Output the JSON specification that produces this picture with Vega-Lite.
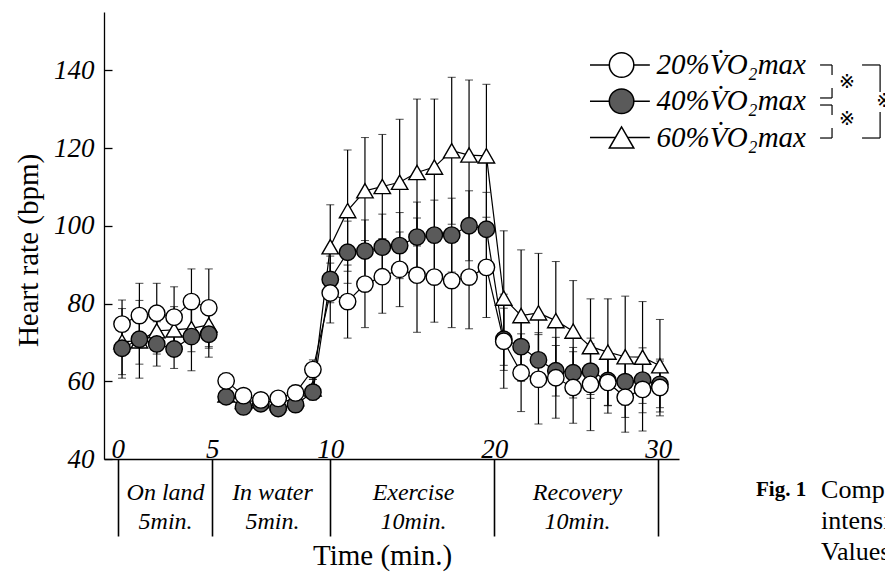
{
  "$schema": "https://vega.github.io/schema/vega-lite/v6.json",
  "width": 575,
  "height": 447,
  "autosize": "none",
  "padding": {"left": 104, "top": 12, "right": 206, "bottom": 122},
  "background": "white",
  "config": {
    "view": {"stroke": null},
    "font": "Liberation Serif",
    "text": {"font": "Liberation Serif"},
    "title": {"font": "Liberation Serif"},
    "style": {"guide-title": {"font": "Liberation Serif", "fontWeight": "normal"}, "guide-label": {"font": "Liberation Serif"}},
    "axis": {"labelFont": "Liberation Serif", "titleFont": "Liberation Serif", "labelColor": "black", "titleColor": "black", "domainColor": "black", "tickColor": "black", "grid": false, "titleFontWeight": "normal"}
  },
  "datasets": {
    "hr": [
      {"s":"60%","i":0,"hr":70.2,"sd":8.5,"seg":"land"},{"s":"60%","i":1,"hr":70.4,"sd":6,"seg":"land"},{"s":"60%","i":2,"hr":73.0,"sd":6,"seg":"land"},{"s":"60%","i":3,"hr":73.2,"sd":6,"seg":"land"},{"s":"60%","i":4,"hr":73.6,"sd":6,"seg":"land"},{"s":"60%","i":5,"hr":74.5,"sd":6,"seg":"land"},
      {"s":"60%","i":6,"hr":56.5,"sd":2,"seg":"main"},{"s":"60%","i":7,"hr":54.8,"sd":1.5,"seg":"main"},{"s":"60%","i":8,"hr":55.0,"sd":1.5,"seg":"main"},{"s":"60%","i":9,"hr":54.5,"sd":1.5,"seg":"main"},{"s":"60%","i":10,"hr":55.5,"sd":2,"seg":"main"},{"s":"60%","i":11,"hr":58.0,"sd":2.5,"seg":"main"},
      {"s":"60%","i":12,"hr":94.6,"sd":10.8,"seg":"main"},{"s":"60%","i":13,"hr":103.9,"sd":15.6,"seg":"main"},{"s":"60%","i":14,"hr":109.0,"sd":13.7,"seg":"main"},{"s":"60%","i":15,"hr":110.1,"sd":13.4,"seg":"main"},{"s":"60%","i":16,"hr":111.2,"sd":16.2,"seg":"main"},{"s":"60%","i":17,"hr":113.7,"sd":18.9,"seg":"main"},{"s":"60%","i":18,"hr":115.1,"sd":17.5,"seg":"main"},{"s":"60%","i":19,"hr":119.3,"sd":18.9,"seg":"main"},{"s":"60%","i":20,"hr":118.2,"sd":19.3,"seg":"main"},{"s":"60%","i":21,"hr":118.0,"sd":18.4,"seg":"main"},
      {"s":"60%","i":22,"hr":81.4,"sd":17.3,"seg":"main"},{"s":"60%","i":23,"hr":76.9,"sd":16.9,"seg":"main"},{"s":"60%","i":24,"hr":77.6,"sd":15.3,"seg":"main"},{"s":"60%","i":25,"hr":75.6,"sd":15.2,"seg":"main"},{"s":"60%","i":26,"hr":72.9,"sd":13.0,"seg":"main"},{"s":"60%","i":27,"hr":68.9,"sd":12.3,"seg":"main"},{"s":"60%","i":28,"hr":67.5,"sd":13.7,"seg":"main"},{"s":"60%","i":29,"hr":66.3,"sd":15.6,"seg":"main"},{"s":"60%","i":30,"hr":66.2,"sd":14.3,"seg":"main"},{"s":"60%","i":31,"hr":64.0,"sd":11.9,"seg":"main"},
      {"s":"40%","i":0,"hr":68.5,"sd":7.7,"seg":"land"},{"s":"40%","i":1,"hr":70.8,"sd":10,"seg":"land"},{"s":"40%","i":2,"hr":69.6,"sd":5.7,"seg":"land"},{"s":"40%","i":3,"hr":68.3,"sd":5,"seg":"land"},{"s":"40%","i":4,"hr":71.5,"sd":8.8,"seg":"land"},{"s":"40%","i":5,"hr":72.1,"sd":5.9,"seg":"land"},
      {"s":"40%","i":6,"hr":56.0,"sd":1.5,"seg":"main"},{"s":"40%","i":7,"hr":53.4,"sd":1.5,"seg":"main"},{"s":"40%","i":8,"hr":54.2,"sd":1.5,"seg":"main"},{"s":"40%","i":9,"hr":53.0,"sd":1.5,"seg":"main"},{"s":"40%","i":10,"hr":54.0,"sd":1.5,"seg":"main"},{"s":"40%","i":11,"hr":57.2,"sd":2,"seg":"main"},
      {"s":"40%","i":12,"hr":86.2,"sd":6,"seg":"main"},{"s":"40%","i":13,"hr":93.2,"sd":8,"seg":"main"},{"s":"40%","i":14,"hr":93.5,"sd":8,"seg":"main"},{"s":"40%","i":15,"hr":94.5,"sd":8.5,"seg":"main"},{"s":"40%","i":16,"hr":94.9,"sd":8.5,"seg":"main"},{"s":"40%","i":17,"hr":97.1,"sd":9,"seg":"main"},{"s":"40%","i":18,"hr":97.6,"sd":9,"seg":"main"},{"s":"40%","i":19,"hr":97.6,"sd":9.5,"seg":"main"},{"s":"40%","i":20,"hr":100.0,"sd":9,"seg":"main"},{"s":"40%","i":21,"hr":99.1,"sd":9.5,"seg":"main"},
      {"s":"40%","i":22,"hr":70.8,"sd":8,"seg":"main"},{"s":"40%","i":23,"hr":68.9,"sd":7,"seg":"main"},{"s":"40%","i":24,"hr":65.5,"sd":7,"seg":"main"},{"s":"40%","i":25,"hr":62.7,"sd":6.5,"seg":"main"},{"s":"40%","i":26,"hr":62.2,"sd":6.5,"seg":"main"},{"s":"40%","i":27,"hr":62.6,"sd":7,"seg":"main"},{"s":"40%","i":28,"hr":60.2,"sd":6.5,"seg":"main"},{"s":"40%","i":29,"hr":59.9,"sd":6,"seg":"main"},{"s":"40%","i":30,"hr":60.3,"sd":6,"seg":"main"},{"s":"40%","i":31,"hr":59.2,"sd":6,"seg":"main"},
      {"s":"20%","i":0,"hr":74.7,"sd":6.2,"seg":"land"},{"s":"20%","i":1,"hr":76.9,"sd":8.3,"seg":"land"},{"s":"20%","i":2,"hr":77.5,"sd":7.7,"seg":"land"},{"s":"20%","i":3,"hr":76.5,"sd":7.8,"seg":"land"},{"s":"20%","i":4,"hr":80.5,"sd":8.4,"seg":"land"},{"s":"20%","i":5,"hr":78.9,"sd":10,"seg":"land"},
      {"s":"20%","i":6,"hr":60.1,"sd":2,"seg":"main"},{"s":"20%","i":7,"hr":56.3,"sd":1.5,"seg":"main"},{"s":"20%","i":8,"hr":55.2,"sd":1.5,"seg":"main"},{"s":"20%","i":9,"hr":55.6,"sd":1.5,"seg":"main"},{"s":"20%","i":10,"hr":57.0,"sd":2,"seg":"main"},{"s":"20%","i":11,"hr":63.0,"sd":2.5,"seg":"main"},
      {"s":"20%","i":12,"hr":82.7,"sd":7.7,"seg":"main"},{"s":"20%","i":13,"hr":80.5,"sd":9.4,"seg":"main"},{"s":"20%","i":14,"hr":85.0,"sd":11.2,"seg":"main"},{"s":"20%","i":15,"hr":86.9,"sd":9.4,"seg":"main"},{"s":"20%","i":16,"hr":88.8,"sd":9.6,"seg":"main"},{"s":"20%","i":17,"hr":87.3,"sd":14.7,"seg":"main"},{"s":"20%","i":18,"hr":86.8,"sd":11.6,"seg":"main"},{"s":"20%","i":19,"hr":85.9,"sd":12.1,"seg":"main"},{"s":"20%","i":20,"hr":86.8,"sd":13.3,"seg":"main"},{"s":"20%","i":21,"hr":89.3,"sd":12.9,"seg":"main"},
      {"s":"20%","i":22,"hr":70.3,"sd":12.1,"seg":"main"},{"s":"20%","i":23,"hr":62.2,"sd":10,"seg":"main"},{"s":"20%","i":24,"hr":60.5,"sd":11.5,"seg":"main"},{"s":"20%","i":25,"hr":60.9,"sd":10.4,"seg":"main"},{"s":"20%","i":26,"hr":58.4,"sd":9.2,"seg":"main"},{"s":"20%","i":27,"hr":59.2,"sd":11.9,"seg":"main"},{"s":"20%","i":28,"hr":59.7,"sd":7.9,"seg":"main"},{"s":"20%","i":29,"hr":55.9,"sd":9,"seg":"main"},{"s":"20%","i":30,"hr":57.9,"sd":10.7,"seg":"main"},{"s":"20%","i":31,"hr":58.4,"sd":7.3,"seg":"main"}
    ],
    "legend": [
      {"s":"20%","label":"20%V̇O₂max"},
      {"s":"40%","label":"40%V̇O₂max"},
      {"s":"60%","label":"60%V̇O₂max"}
    ],
    "one": [{}]
  },
  "layer": [
    {
      "layer": [
        {
          "data": {"name": "hr"},
          "mark": {"type": "errorbar", "ticks": {"size": 8, "color": "black", "strokeWidth": 1.2}, "rule": {"color": "black", "strokeWidth": 1.2}},
          "encoding": {
            "x": {"field": "i", "type": "quantitative", "scale": {"domain": [-1.04, 32.1], "nice": false, "zero": false}, "title": null},
            "y": {"field": "hr", "type": "quantitative", "scale": {"domain": [40, 155], "nice": false, "zero": false}, "title": "Heart rate (bpm)"},
            "yError": {"field": "sd"}
          }
        },
        {
          "data": {"name": "hr"},
          "mark": {"type": "line", "color": "black", "strokeWidth": 1.2},
          "encoding": {
            "x": {"field": "i", "type": "quantitative", "title": null},
            "y": {"field": "hr", "type": "quantitative", "title": "Heart rate (bpm)"},
            "detail": [{"field": "s"}, {"field": "seg"}]
          }
        },
        {
          "data": {"name": "hr"},
          "mark": {"type": "point", "filled": true, "stroke": "black", "strokeWidth": 1.4, "size": 270, "opacity": 1},
          "encoding": {
            "x": {"field": "i", "type": "quantitative", "title": null,
              "axis": {"orient": "bottom", "values": [-0.25, 5.2, 12, 21.45, 30.9], "labelExpr": "datum.value < 1 ? '0' : datum.value < 6 ? '5' : datum.value < 13 ? '10' : datum.value < 22 ? '20' : '30'", "tickSize": 77, "tickWidth": 1.6, "labelPadding": -79, "labelBaseline": "alphabetic", "labelFont": "Liberation Serif", "labelFontSize": 27, "labelFontStyle": "italic", "labelFlush": false, "labelOverlap": false, "domainWidth": 1.3, "title": null}},
            "y": {"field": "hr", "type": "quantitative", "title": "Heart rate (bpm)",
              "axis": {"values": [40, 60, 80, 100, 120, 140], "tickSize": -8, "tickWidth": 1.3, "labelPadding": 18, "labelFont": "Liberation Serif", "labelFontSize": 27, "labelFontStyle": "italic", "titleFont": "Liberation Serif", "titleFontSize": 29, "titleFontWeight": "normal", "titlePadding": 10, "titleY": 238, "domainWidth": 1.3, "title": "Heart rate (bpm)"}},
            "shape": {"field": "s", "type": "nominal", "scale": {"domain": ["20%", "40%", "60%"], "range": ["circle", "circle", "triangle-up"]}, "legend": null},
            "fill": {"field": "s", "type": "nominal", "scale": {"domain": ["20%", "40%", "60%"], "range": ["white", "#5a5a5a", "white"]}, "legend": null}
          }
        },
        {"data": {"name": "one"}, "mark": {"type": "rule", "color": "black", "strokeWidth": 1.2}, "encoding": {"x": {"datum": 40.23}, "x2": {"datum": 40.92}, "y": {"datum": 141.37}}},
        {"data": {"name": "one"}, "mark": {"type": "rule", "color": "black", "strokeWidth": 1.2}, "encoding": {"x": {"datum": 40.92}, "y": {"datum": 141.37}, "y2": {"datum": 138.79}}},
        {"data": {"name": "one"}, "mark": {"type": "rule", "color": "black", "strokeWidth": 1.2}, "encoding": {"x": {"datum": 40.92}, "y": {"datum": 135.45}, "y2": {"datum": 132.88}}},
        {"data": {"name": "one"}, "mark": {"type": "rule", "color": "black", "strokeWidth": 1.2}, "encoding": {"x": {"datum": 40.23}, "x2": {"datum": 40.92}, "y": {"datum": 132.88}}},
        {"data": {"name": "one"}, "mark": {"type": "rule", "color": "black", "strokeWidth": 1.2}, "encoding": {"x": {"datum": 40.23}, "x2": {"datum": 40.92}, "y": {"datum": 131.07}}},
        {"data": {"name": "one"}, "mark": {"type": "rule", "color": "black", "strokeWidth": 1.2}, "encoding": {"x": {"datum": 40.92}, "y": {"datum": 131.07}, "y2": {"datum": 128.5}}},
        {"data": {"name": "one"}, "mark": {"type": "rule", "color": "black", "strokeWidth": 1.2}, "encoding": {"x": {"datum": 40.92}, "y": {"datum": 125.16}, "y2": {"datum": 122.58}}},
        {"data": {"name": "one"}, "mark": {"type": "rule", "color": "black", "strokeWidth": 1.2}, "encoding": {"x": {"datum": 40.23}, "x2": {"datum": 40.92}, "y": {"datum": 122.58}}},
        {"data": {"name": "one"}, "mark": {"type": "rule", "color": "black", "strokeWidth": 1.2}, "encoding": {"x": {"datum": 42.65}, "x2": {"datum": 43.69}, "y": {"datum": 141.37}}},
        {"data": {"name": "one"}, "mark": {"type": "rule", "color": "black", "strokeWidth": 1.2}, "encoding": {"x": {"datum": 43.69}, "y": {"datum": 141.37}, "y2": {"datum": 134.42}}},
        {"data": {"name": "one"}, "mark": {"type": "rule", "color": "black", "strokeWidth": 1.2}, "encoding": {"x": {"datum": 43.69}, "y": {"datum": 129.27}, "y2": {"datum": 122.58}}},
        {"data": {"name": "one"}, "mark": {"type": "rule", "color": "black", "strokeWidth": 1.2}, "encoding": {"x": {"datum": 42.65}, "x2": {"datum": 43.69}, "y": {"datum": 122.58}}},
        {"data": {"name": "one"}, "mark": {"type": "text", "font": "DejaVu Sans", "fontSize": 19, "fill": "black", "align": "center", "baseline": "middle", "text": "※"}, "encoding": {"x": {"datum": 41.78}, "y": {"datum": 136.99}}},
        {"data": {"name": "one"}, "mark": {"type": "text", "font": "DejaVu Sans", "fontSize": 19, "fill": "black", "align": "center", "baseline": "middle", "text": "※"}, "encoding": {"x": {"datum": 41.78}, "y": {"datum": 127.47}}},
        {"data": {"name": "one"}, "mark": {"type": "text", "font": "DejaVu Sans", "fontSize": 19, "fill": "black", "align": "center", "baseline": "middle", "text": "※"}, "encoding": {"x": {"datum": 43.92}, "y": {"datum": 132.1}}},
        {"data": {"name": "one"}, "mark": {"type": "text", "font": "Liberation Serif", "fontSize": 21, "fontWeight": "bold", "fill": "black", "align": "left", "baseline": "middle", "text": "Fig. 1"}, "encoding": {"x": {"datum": 36.54}, "y": {"datum": 32.03}}},
        {"data": {"name": "one"}, "mark": {"type": "text", "font": "Liberation Serif", "fontSize": 26, "fill": "black", "align": "left", "baseline": "middle", "text": "Comparison of heart rate"}, "encoding": {"x": {"datum": 40.29}, "y": {"datum": 32.03}}},
        {"data": {"name": "one"}, "mark": {"type": "text", "font": "Liberation Serif", "fontSize": 26, "fill": "black", "align": "left", "baseline": "middle", "text": "intensities"}, "encoding": {"x": {"datum": 40.29}, "y": {"datum": 24.05}}},
        {"data": {"name": "one"}, "mark": {"type": "text", "font": "Liberation Serif", "fontSize": 26, "fill": "black", "align": "left", "baseline": "middle", "text": "Values are means"}, "encoding": {"x": {"datum": 40.29}, "y": {"datum": 16.08}}}
      ]
    },
    {
      "data": {"name": "legend"},
      "layer": [
        {
          "mark": {"type": "rule", "color": "black", "strokeWidth": 1.4},
          "encoding": {
            "x": {"datum": 26.97, "type": "quantitative", "scale": {"domain": [-1.04, 32.1], "nice": false, "zero": false},
              "axis": {"orient": "bottom", "values": [2.48, 8.64, 16.77, 26.22], "labelExpr": "datum.value < 5 ? ['On land','5min.'] : datum.value < 12 ? ['In water','5min.'] : datum.value < 20 ? ['Exercise','10min.'] : ['Recovery','10min.']", "ticks": false, "domain": false, "labelPadding": 21, "labelBaseline": "top", "labelFont": "Liberation Serif", "labelFontSize": 24, "labelFontStyle": "italic", "labelLineHeight": 29, "labelFlush": false, "labelOverlap": false, "title": "Time (min.)", "titleFont": "Liberation Serif", "titleFontSize": 29, "titleFontWeight": "normal", "titlePadding": 8, "titleX": 278}},
            "x2": {"datum": 30.42},
            "y": {"field": "s", "type": "nominal", "scale": {"type": "point", "domain": ["20%", "40%", "60%"], "range": [53, 125.5], "padding": 0}, "axis": null}
          }
        },
        {
          "mark": {"type": "point", "filled": true, "stroke": "black", "strokeWidth": 1.5, "opacity": 1},
          "encoding": {
            "x": {"datum": 28.79, "type": "quantitative"},
            "y": {"field": "s", "type": "nominal", "axis": null},
            "shape": {"field": "s", "type": "nominal", "legend": null},
            "fill": {"field": "s", "type": "nominal", "legend": null},
            "size": {"field": "s", "type": "nominal", "scale": {"domain": ["20%", "40%", "60%"], "range": [600, 600, 440]}, "legend": null}
          }
        },
        {
          "mark": {"type": "text", "font": "Liberation Serif", "fontSize": 29, "fontStyle": "italic", "fill": "black", "align": "left", "baseline": "middle"},
          "encoding": {
            "x": {"datum": 30.81, "type": "quantitative"},
            "y": {"field": "s", "type": "nominal", "axis": null},
            "text": {"field": "label"}
          }
        }
      ]
    }
  ],
  "resolve": {"scale": {"y": "independent"}, "axis": {"x": "independent", "y": "independent"}}
}
